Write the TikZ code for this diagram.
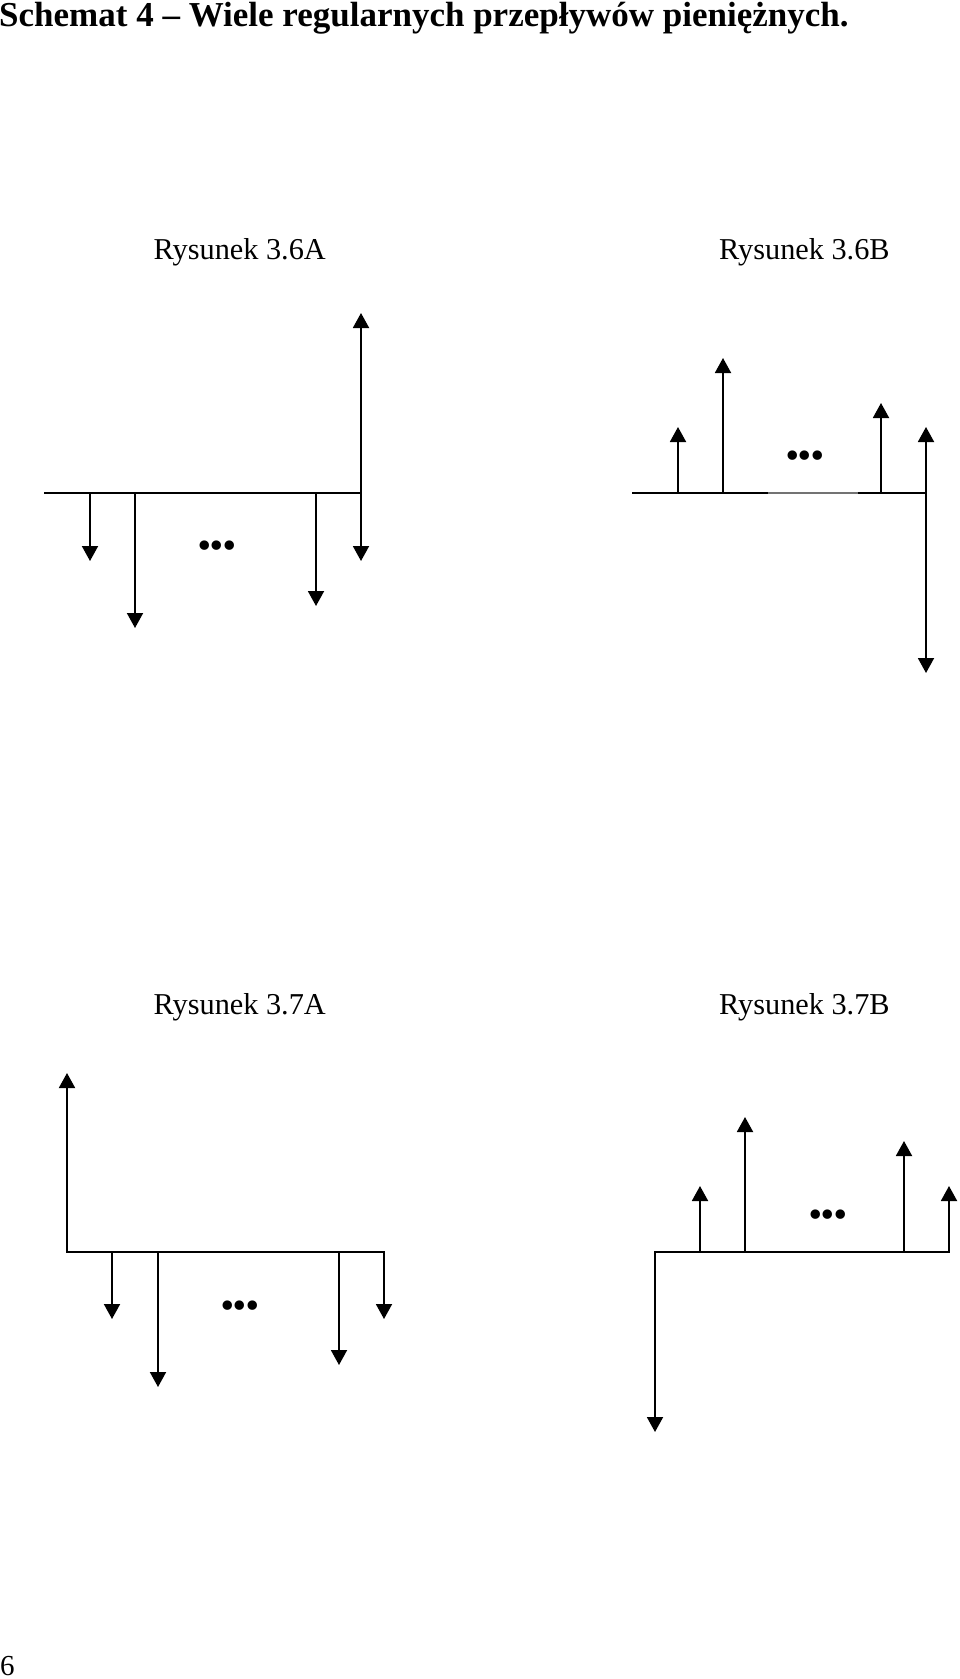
\documentclass[tikz,border=0pt]{standalone}
\usepackage{fontspec}
\setmainfont{Liberation Serif}
\usetikzlibrary{arrows.meta}
\newcommand{\mydots}{.\kern-1.8pt.\kern-1.8pt.}
\tikzset{
  flow/.style={line width=1.9pt, >={Triangle[width=16pt,length=15pt]}},
  lbl/.style={anchor=base west, inner sep=0pt, font=\fontsize{30.3}{34}\selectfont},
  dots/.style={anchor=base, inner sep=0pt, font=\bfseries\fontsize{58}{62}\selectfont}
}
\begin{document}
\begin{tikzpicture}[x=1pt,y=-1pt]
\useasboundingbox (0,0) rectangle (960,1679);
% title and page number
\node[anchor=base west, inner sep=0pt, font=\bfseries\fontsize{35}{40}\selectfont] (title) at (-1,26.5) {Schemat 4 – Wiele regularnych przepływów pieniężnych.};
\node[anchor=base west, inner sep=0pt, font=\fontsize{29}{33}\selectfont] (page) at (0,1675) {6};
% labels
\node[lbl] (l6a) at (153.5,259.3) {Rysunek 3.6A};
\node[lbl] (l6b) at (719,259.3) {Rysunek 3.6B};
\node[lbl] (l7a) at (153.5,1014.3) {Rysunek 3.7A};
\node[lbl] (l7b) at (719,1014.3) {Rysunek 3.7B};

% ---------- 3.6A ----------
\coordinate (a0) at (44,493);
\coordinate (a1) at (90,493);  \coordinate (a1t) at (90,561);
\coordinate (a2) at (135,493); \coordinate (a2t) at (135,628);
\coordinate (a3) at (316,493); \coordinate (a3t) at (316,606);
\coordinate (a4) at (361,493); \coordinate (a4u) at (361,313); \coordinate (a4d) at (361,561);
\draw[flow] (a0) -- (a4);
\draw[flow,->] (a1) -- (a1t);
\draw[flow,->] (a2) -- (a2t);
\draw[flow,->] (a3) -- (a3t);
\draw[flow,<->] (a4u) -- (a4d);
\node[dots] (d6a) at (217,549.5) {\mydots};

% ---------- 3.6B ----------
\coordinate (b0) at (632,493);
\coordinate (bg1) at (768,493); \coordinate (bg2) at (858,493);
\coordinate (b1) at (678,493); \coordinate (b1t) at (678,427);
\coordinate (b2) at (723,493); \coordinate (b2t) at (723,358);
\coordinate (b3) at (881,493); \coordinate (b3t) at (881,403);
\coordinate (b4) at (926,493); \coordinate (b4u) at (926,427); \coordinate (b4d) at (926,673);
\draw[flow] (b0) -- (bg1);
\draw[line width=1.3pt, black!55] (bg1) -- (bg2);
\draw[flow] (bg2) -- (b4);
\draw[flow,->] (b1) -- (b1t);
\draw[flow,->] (b2) -- (b2t);
\draw[flow,->] (b3) -- (b3t);
\draw[flow,<->] (b4u) -- (b4d);
\node[dots] (d6b) at (805,459.5) {\mydots};

% ---------- 3.7A ----------
\coordinate (c0) at (67,1252); \coordinate (c0t) at (67,1073);
\coordinate (c1) at (112,1252); \coordinate (c1t) at (112,1319);
\coordinate (c2) at (158,1252); \coordinate (c2t) at (158,1387);
\coordinate (c3) at (339,1252); \coordinate (c3t) at (339,1365);
\coordinate (c4) at (384,1252); \coordinate (c4t) at (384,1319);
\draw[flow,<->] (c0t) -- (c0) -- (c4) -- (c4t);
\draw[flow,->] (c1) -- (c1t);
\draw[flow,->] (c2) -- (c2t);
\draw[flow,->] (c3) -- (c3t);
\node[dots] (d7a) at (240,1309.2) {\mydots};

% ---------- 3.7B ----------
\coordinate (e0) at (655,1252); \coordinate (e0t) at (655,1432);
\coordinate (e1) at (700,1252); \coordinate (e1t) at (700,1186);
\coordinate (e2) at (745,1252); \coordinate (e2t) at (745,1117);
\coordinate (e3) at (904,1252); \coordinate (e3t) at (904,1141);
\coordinate (e4) at (949,1252); \coordinate (e4t) at (949,1186);
\draw[flow,<->] (e0t) -- (e0) -- (e4) -- (e4t);
\draw[flow,->] (e1) -- (e1t);
\draw[flow,->] (e2) -- (e2t);
\draw[flow,->] (e3) -- (e3t);
\node[dots] (d7b) at (828,1218.5) {\mydots};
\end{tikzpicture}
\end{document}
